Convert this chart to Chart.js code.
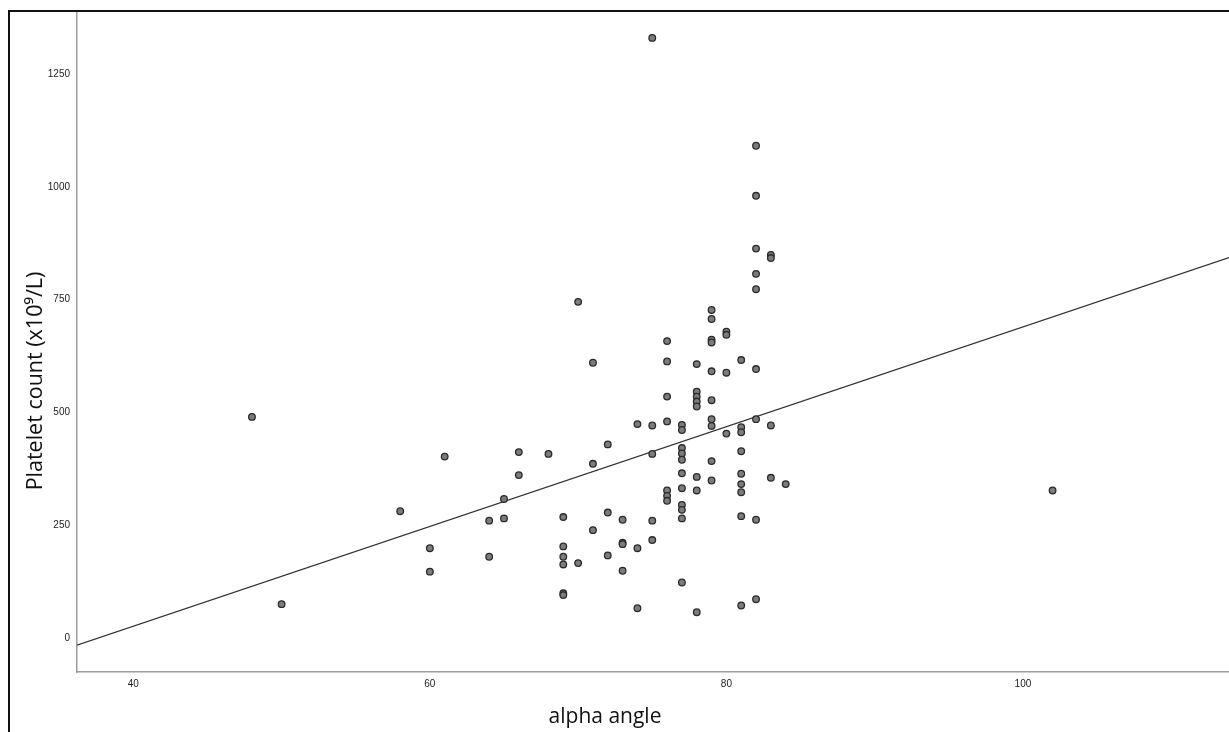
<!DOCTYPE html>
<html>
<head>
<meta charset="utf-8">
<script src="https://cdn.jsdelivr.net/npm/chart.js@4.4.0/dist/chart.umd.min.js"></script>
<style>
  body { margin: 0; background: #fff; }
  .chart-box { width: 1229px; height: 732px; position: relative; }
</style>
</head>
<body>
<div class="chart-box"><canvas id="scatterChart"></canvas></div>
<script>
// alpha angle (x) and platelet count (y), one entry per patient
const alphaAngle = [
  48, 50, 58, 60, 60, 61, 64, 64, 65, 65, 66, 66, 68,
  69, 69, 69, 69, 69, 69, 70, 70, 71, 71, 71, 72, 72, 72,
  73, 73, 73, 73, 74, 74, 74, 75, 75, 75, 75, 75,
  76, 76, 76, 76, 76, 76, 76,
  77, 77, 77, 77, 77, 77, 77, 77, 77, 77, 77,
  78, 78, 78, 78, 78, 78, 78, 78,
  79, 79, 79, 79, 79, 79, 79, 79, 79, 79,
  80, 80, 80, 80,
  81, 81, 81, 81, 81, 81, 81, 81, 81,
  82, 82, 82, 82, 82, 82, 82, 82, 82,
  83, 83, 83, 83, 84, 102
];
const plateletCount = [
  490, 75, 281, 199, 147, 402, 260, 180, 308, 265, 412, 361, 408,
  268, 203, 180, 163, 99, 95, 745, 166, 610, 386, 239, 429, 278, 183,
  262, 211, 208, 149, 474, 199, 66, 1330, 471, 408, 260, 217,
  658, 613, 535, 480, 327, 315, 304,
  472, 461, 421, 409, 395, 365, 332, 295, 284, 265, 123,
  607, 546, 535, 524, 513, 357, 327, 57,
  727, 707, 661, 655, 591, 527, 485, 470, 392, 349,
  679, 672, 588, 453,
  616, 467, 456, 414, 364, 341, 323, 270, 72,
  1091, 980, 863, 807, 773, 596, 485, 262, 86,
  849, 842, 471, 355, 341, 327
];

// fitted line, read at the two ends of the x axis
const fitAngle = [36.2, 113.9];
const fitCount = [-16, 843];

const xTicks = [40, 60, 80, 100];
const yTicks = [0, 250, 500, 750, 1000, 1250];

const points = alphaAngle.map((a, i) => ({ x: a, y: plateletCount[i] }));
const fitLine = fitAngle.map((a, i) => ({ x: a, y: fitCount[i] }));

// outer frame + axis titles
const framePlugin = {
  id: "framePlugin",
  afterDraw(chart) {
    const ctx = chart.ctx;
    ctx.save();
    ctx.strokeStyle = "#111";
    ctx.lineWidth = 2;
    ctx.beginPath();
    ctx.moveTo(9, 732);
    ctx.lineTo(9, 11);
    ctx.lineTo(1229, 11);
    ctx.stroke();

    ctx.fillStyle = "#111";
    ctx.font = "21px 'Open Sans'";
    ctx.textAlign = "center";
    ctx.textBaseline = "middle";
    ctx.fillText("alpha angle", 605, 717);

    ctx.translate(36, 381);
    ctx.rotate(-Math.PI / 2);
    ctx.font = "21.5px 'Open Sans'";
    ctx.fillText("Platelet count (x10\u2079/L)", 0, 0);
    ctx.restore();
  },
};

const tickFont = { family: "'Liberation Sans', Arial, sans-serif", size: 10 };

new Chart(document.getElementById("scatterChart"), {
  type: "scatter",
  data: {
    datasets: [
      {
        data: points,
        backgroundColor: "#7c7c7c",
        borderColor: "#2a2a2a",
        borderWidth: 1.3,
        pointRadius: 3.3,
      },
      {
        type: "line",
        data: fitLine,
        borderColor: "#333",
        borderWidth: 1.2,
        pointRadius: 0,
        fill: false,
      },
    ],
  },
  options: {
    responsive: true,
    maintainAspectRatio: false,
    animation: false,
    layout: { autoPadding: false, padding: { top: 11, left: 0, right: 0, bottom: 0 } },
    plugins: {
      legend: { display: false },
      tooltip: { enabled: false },
    },
    scales: {
      x: {
        type: "linear",
        min: 36.2,
        max: 113.9,
        grid: { display: false, drawTicks: false },
        border: { color: "#9c9c9c", width: 1.5 },
        ticks: { padding: 6, color: "#222", font: tickFont, callback: (v) => String(v) },
        afterBuildTicks: (s) => { s.ticks = xTicks.map((v) => ({ value: v })); },
        afterFit: (s) => {
          s.height = 60;
          s.paddingLeft = 0;
          s.paddingRight = 0;
        },
      },
      y: {
        min: -75.4,
        max: 1389.6,
        grid: { display: false, drawTicks: false },
        border: { color: "#9c9c9c", width: 1.5 },
        ticks: { padding: 7, color: "#222", font: tickFont, callback: (v) => String(v) },
        afterBuildTicks: (s) => { s.ticks = yTicks.map((v) => ({ value: v })); },
        afterFit: (s) => {
          s.width = 77;
          s.paddingTop = 0;
          s.paddingBottom = 0;
        },
      },
    },
  },
  plugins: [framePlugin],
});
</script>
</body>
</html>
